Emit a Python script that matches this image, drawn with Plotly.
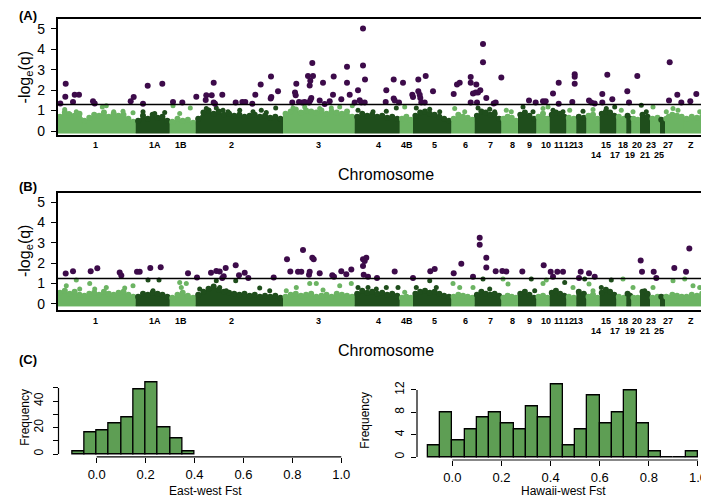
import numpy as np
import plotly.graph_objects as go
from bisect import bisect_right

W, H = 709, 498
FONT = "Liberation Sans, Arial, sans-serif"

# ---------------- chromosome layout (cumulative position units) ----------------
chrom_names = ["1", "1A", "1B", "2", "3", "4", "4B", "5", "6", "7", "8", "9", "10", "11",
               "12", "13", "14", "15", "17", "18", "19", "20", "21", "23", "25", "27", "Z"]
chrom_start = [49.5, 127.7, 161.7, 187.7, 275, 346.7, 391.7, 405, 443.3, 466.7, 493.3, 510,
               528.3, 541.7, 558.3, 568.3, 578.3, 591.7, 608.3, 618.3, 623.3, 632, 642, 652,
               657, 662, 676]
genome_end = 707
chrom_shade = ["L", "D", "L", "D", "L", "D", "L", "D", "L", "D", "L", "D", "L", "D",
               "L", "D", "L", "D", "L", "D", "L", "D", "L", "D", "L", "L", "L"]
chrom_label_pos = [87.7, 146.7, 172.7, 223.3, 310, 370, 399.3, 426, 457.3, 482.3, 504, 521.7,
                   538.3, 551, 560.7, 570, 588.3, 598.3, 606.7, 615, 621.7, 629, 636.7, 643.3,
                   650.7, 660, 683.3]
chrom_label_row = [0, 0, 0, 0, 0, 0, 0, 0, 0, 0, 0, 0, 0, 0, 0, 0, 1, 0, 1, 0, 1, 0, 1, 0, 1, 0, 0]

# ---------------- panel A: dense cloud tops per chromosome ----------------
envA = [
    [0.7, 0.9, 0.8, 0.75, 0.85, 0.5, 0.65, 0.8, 0.75, 0.9, 0.7, 0.85, 0.75, 0.8, 0.6, 0.45],
    [0.5, 0.75, 0.6, 0.8, 0.65, 0.7, 0.5],
    [0.45, 0.6, 0.5, 0.55, 0.4],
    [0.6, 0.9, 1.0, 0.85, 0.95, 0.8, 0.85, 0.75, 0.8, 0.7, 0.75, 0.8, 0.7, 0.75, 0.65, 0.7, 0.6],
    [0.85, 0.95, 1.05, 0.9, 1.0, 0.95, 0.9, 1.0, 0.85, 0.95, 0.9, 0.85, 0.95, 0.7],
    [0.7, 0.85, 0.75, 0.8, 0.7, 0.75, 0.65, 0.7, 0.6],
    [0.6, 0.7, 0.55],
    [0.75, 0.9, 0.95, 0.85, 0.8, 0.7, 0.6, 0.5],
    [0.6, 0.8, 0.7, 0.65, 0.55],
    [0.75, 0.95, 0.9, 0.8, 0.85, 0.6],
    [0.6, 0.7, 0.65, 0.5],
    [0.8, 0.9, 0.75, 0.6],
    [0.7, 0.85, 0.6],
    [0.8, 0.9, 0.85, 0.7],
    [0.65, 0.6],
    [0.7, 0.65],
    [0.75, 0.8, 0.6],
    [0.85, 0.95, 0.9, 0.75],
    [0.7, 0.6],
    [0.75, 0.6],
    [0.6, 0.55],
    [0.8, 0.7],
    [0.6, 0.65],
    [0.55, 0.5],
    [0.6, 0.7],
    [0.8, 0.75, 0.7],
    [0.6, 0.7, 0.65, 0.7, 0.6, 0.7],
]
greenA_x = [56.7, 61, 68.3, 94.3, 98.3, 105.7, 115, 125, 135, 146.7, 156.7, 165, 182.3, 171.7,
            198.3, 208.3, 215, 220, 231.7, 245, 253.3, 258.3, 267.7, 285, 296.7, 311.7, 323.3,
            331.7, 344.3, 350, 365, 378.3, 388.3, 396.7, 408.3, 421.7, 431.7, 446.7, 456.7, 470,
            481.7, 486.7, 498.3, 503.3, 515, 525, 535, 540, 545, 555, 561.7, 575, 585, 598.3,
            606.7, 613.3, 625, 633.3, 638.3, 645, 658.3, 665, 670, 691.7, 705]
greenA_y = [1.05, 0.86, 0.94, 1.18, 1.23, 0.94, 0.97, 0.89, 0.94, 0.86, 0.91, 1.23, 1.13, 0.86,
            1.1, 1.13, 1.02, 0.94, 1.02, 0.94, 1.02, 0.91, 1.13, 1.13, 1.18, 1.1, 1.13,
            1.18, 1.23, 1.02, 0.94, 0.97, 1.13, 1.18, 1.13, 1.07, 0.94, 1.1, 0.94, 1.13,
            1.07, 0.94, 1.02, 0.94, 1.18, 0.94, 1.1, 1.18, 1.02, 0.94, 1.02, 0.97, 1.05, 1.1,
            1.18, 1.02, 0.94, 1.26, 0.94, 1.18, 0.94, 1.1, 1.02, 0.94, 1.02]
sigA_x = [52.3, 57.7, 57.3, 65, 66.7, 71, 85, 86.7, 122.7, 125.7, 135, 139.7, 154.3, 165, 174.3,
          188.3, 197.7, 198.3, 203.7, 205.7, 205.7, 207, 214.3, 227.7, 234.3, 237.3, 244.3, 247.3,
          252.7, 263, 262.7, 263.3, 270,
          284.3, 287.7, 288.3, 287, 291, 294.3, 296.7, 300, 301.7, 302.3, 305, 304.3, 303.3, 302.3,
          301, 311.7, 315, 316.7, 321.7, 325, 325.7, 333.3, 339, 339, 341.7, 346.7, 350, 355, 355,
          357, 351.7, 353.3, 356.7, 378.3, 377.7, 385.7, 385.7, 386.7, 391, 395, 404.3, 405, 410.3,
          410.3, 411.7, 412.3, 413.3, 417.7, 416.7, 425, 445.7, 449, 451.7, 462.7, 462.7, 468.3,
          465, 467.7, 470, 472.3, 462.7, 469, 475, 475, 478.3, 485.7, 487.7,
          493.3, 521, 527.7, 535, 537.7, 545, 550.7, 550.7, 564.3, 566.7, 566.7, 566.7, 581, 583.3,
          586.7, 594.3, 594.3, 599.3, 604.3, 619.3, 621, 629.3, 661.7, 661, 669.3, 673.3, 682.3,
          688.3, 696]
sigA_y = [1.34, 2.31, 1.68, 1.42, 1.78, 1.78, 1.46, 1.34, 1.46, 1.67, 1.33, 2.22, 2.31, 1.42, 1.39,
          1.68, 1.52, 1.75, 1.75, 2.36, 1.39, 1.33, 1.78, 1.39, 1.42, 1.42, 1.33, 1.78,
          2.27, 2.67, 1.59, 1.67, 1.94,
          1.39, 1.75, 2.31, 1.88, 1.42, 1.39, 1.42, 2.69, 2.23, 2.46, 2.69, 3.33, 1.62, 1.50,
          1.39, 1.49, 2.36, 1.32, 1.46, 1.78, 2.67, 1.55, 3.14, 2.36, 1.78, 1.39, 1.99, 5.02, 3.20,
          2.52, 1.50, 1.39, 1.39, 1.99, 1.42, 2.52, 1.59, 1.49, 1.39, 2.36, 1.78, 1.67, 2.52,
          1.94, 1.78, 1.62, 1.39, 2.69, 1.39, 1.94, 1.81, 2.27, 2.36, 2.64, 2.36, 2.27,
          1.83, 1.88, 1.88, 1.99, 1.39, 1.39, 4.26, 3.37, 1.62, 1.34, 1.39,
          2.62, 1.49, 1.39, 1.46, 1.46, 1.84, 2.36, 1.33, 1.42, 2.78, 2.65, 2.31, 1.49, 1.39,
          1.34, 1.81, 1.39, 2.75, 1.55, 1.94, 1.39, 2.69, 3.37, 1.49, 1.78, 1.39, 1.46,
          1.81, 2.43]
thrA = 1.3

# ---------------- panel B ----------------
envB = [
    [0.55, 0.65, 0.5, 0.6, 0.45, 0.4, 0.5, 0.55, 0.45, 0.6, 0.5, 0.45, 0.55, 0.6, 0.45, 0.35],
    [0.35, 0.5, 0.45, 0.55, 0.5, 0.45, 0.35],
    [0.3, 0.45, 0.55, 0.4, 0.3],
    [0.45, 0.6, 0.75, 0.85, 0.7, 0.6, 0.55, 0.5, 0.45, 0.5, 0.4, 0.45, 0.35, 0.4, 0.35, 0.4, 0.3],
    [0.35, 0.45, 0.5, 0.4, 0.45, 0.5, 0.35, 0.4, 0.45, 0.35, 0.5, 0.45, 0.4, 0.35],
    [0.5, 0.65, 0.55, 0.6, 0.5, 0.55, 0.45, 0.5, 0.4],
    [0.3, 0.35, 0.3],
    [0.5, 0.6, 0.65, 0.55, 0.6, 0.5, 0.4, 0.35],
    [0.35, 0.45, 0.4, 0.35, 0.3],
    [0.45, 0.6, 0.5, 0.45, 0.5, 0.4],
    [0.3, 0.4, 0.35, 0.3],
    [0.5, 0.6, 0.45, 0.3],
    [0.35, 0.4, 0.3],
    [0.55, 0.65, 0.5, 0.4],
    [0.35, 0.3],
    [0.6, 0.5],
    [0.35, 0.45, 0.3],
    [0.55, 0.7, 0.6, 0.45],
    [0.35, 0.3],
    [0.5, 0.4],
    [0.3, 0.3],
    [0.6, 0.5],
    [0.3, 0.35],
    [0.35, 0.3],
    [0.35, 0.3],
    [0.45, 0.4, 0.35],
    [0.35, 0.45, 0.4, 0.5, 0.35, 0.45],
]
greenB_x = [58.3, 68.3, 71.7, 81.7, 86.7, 98.3, 116.7, 125, 140, 151, 145, 171.7, 178.3, 173.3,
            191.7, 208.3, 211.7, 227.7, 218.3, 251.7, 261.7, 278.3, 288.3, 301.7, 308.3, 315,
            331.7, 343.3, 350, 360, 368.3, 378.3, 390, 396.7, 408.3, 421.7, 428.3, 445, 451.7,
            465, 475, 481.7, 495, 500, 523.3, 526.7, 535, 538.3, 556.7, 565, 576.7, 581, 585,
            593.3, 603.3, 615, 625, 636.7, 645, 665, 676.7, 685, 691.7, 703.3]
greenB_y = [0.89, 1.17, 0.73, 1.0, 0.73, 0.81, 0.78, 0.89, 1.17, 1.17, 0.65, 1.05, 1.0, 0.81,
            0.73, 1.14, 0.81, 1.14, 0.65, 0.78, 0.65, 0.65, 0.81, 1.0, 1.0, 0.68,
            0.89, 1.0, 0.81, 0.81, 0.73, 0.81, 0.81, 0.57, 0.81, 1.14, 0.81, 1.0, 0.81,
            0.81, 1.22, 0.73, 1.22, 0.98, 1.22, 0.65, 1.0, 1.17, 1.05, 0.81, 1.22, 0.98, 0.65,
            0.81, 1.17, 1.22, 0.81, 0.65, 0.81, 1.14, 1.22, 0.89, 0.81, 0.89]
sigB_x = [57.7, 65, 82.7, 89.3, 111.7, 113.3, 129, 131.7, 142.3, 152.7, 180, 189, 203, 208.3, 211.7,
          217.7, 215.7, 214.3, 227.7, 231, 236.7, 240.3, 265.7,
          279, 282.3, 290, 293.3, 295, 301.7, 301, 304.3, 305.7, 311.7, 324.3, 326, 333.3, 338.3,
          343.3, 355, 355, 355.7, 358.3, 356.7, 360, 369, 386.7, 405, 422.3, 426.7, 445.7, 453.3,
          465, 471.7, 471.7, 478.3, 478.3, 487.7,
          494.3, 498.3, 514.3, 535.7, 542.7, 545, 549.3, 555, 571, 572.7, 581, 586.7, 632.7, 634,
          645.7, 648.3, 666.3, 678, 681.3, 698.3, 702.3]
sigB_y = [1.49, 1.61, 1.61, 1.75, 1.54, 1.40, 1.58, 1.58, 1.77, 1.80, 1.51, 1.30, 1.53, 1.62, 1.59,
          1.77, 1.36, 1.28, 1.90, 1.41, 1.53, 1.28, 1.30,
          2.19, 1.59, 1.58, 1.58, 2.65, 1.58, 1.43, 2.27, 2.19, 1.51, 1.41, 1.33, 1.61, 1.46,
          1.69, 2.19, 1.87, 1.43, 2.27, 2.11, 1.33, 1.28, 1.59, 1.28, 1.61, 1.72, 1.51, 1.97,
          1.33, 3.25, 2.91, 2.27, 1.79, 1.61,
          1.62, 1.59, 1.59, 1.90, 1.58, 1.33, 1.58, 1.58, 1.28, 1.58, 1.51, 1.33, 2.13, 1.58,
          1.58, 1.28, 1.77, 1.58, 2.73, 1.40, 2.01]
thrB = 1.25

# ---------------- panel C: histograms ----------------
bin_start = -0.1
bin_width = 0.05
ew_counts = [2, 16, 18, 23, 28, 49, 54, 20, 12, 2]
hw_counts = [2, 8, 3, 5, 7, 8, 6, 5, 9, 7, 13, 2, 5, 11, 6, 8, 12, 6, 1, 0, 0, 1]
fst_ticks = [0.0, 0.2, 0.4, 0.6, 0.8, 1.0]
ew_yticks_labeled = [0, 20, 40]
ew_yticks_minor = [10, 30, 50]
hw_yticks = [0, 4, 8, 12]

# ---------------- styles ----------------
LIGHT = "#6cb463"
DARK = "#1f4e1c"
PURPLE = "#3d0b4a"
BARC = "#5e9e54"

fig = go.Figure()
chrom_end = chrom_start[1:] + [genome_end]


def shade_of(x):
    i = max(0, bisect_right(chrom_start, x) - 1)
    return LIGHT if chrom_shade[i] == "L" else DARK


def add_manhattan(env, gx, gy, sx, sy, xa, ya):
    for i in range(len(chrom_names)):
        s, e = chrom_start[i], chrom_end[i]
        h = env[i]
        n = len(h)
        xs = list(s + (np.arange(n) + 0.5) * (e - s) / n)
        col = LIGHT if chrom_shade[i] == "L" else DARK
        fig.add_trace(go.Scatter(
            x=[s] + xs + [e, e, s], y=[h[0]] + h + [h[-1], -0.1, -0.1],
            fill="toself", fillcolor=col, mode="lines",
            line=dict(color=col, width=1), xaxis=xa, yaxis=ya, hoverinfo="skip"))
        fig.add_trace(go.Scatter(
            x=xs, y=h, mode="markers", marker=dict(color=col, size=6),
            xaxis=xa, yaxis=ya, hoverinfo="skip"))
    fig.add_trace(go.Scatter(
        x=gx, y=gy, mode="markers",
        marker=dict(color=[shade_of(v) for v in gx], size=5),
        xaxis=xa, yaxis=ya))
    fig.add_trace(go.Scatter(
        x=sx, y=sy, mode="markers", marker=dict(color=PURPLE, size=6),
        xaxis=xa, yaxis=ya))


add_manhattan(envA, greenA_x, greenA_y, sigA_x, sigA_y, "x", "y")
add_manhattan(envB, greenB_x, greenB_y, sigB_x, sigB_y, "x2", "y2")

ew_centers = [bin_start + bin_width * (i + 0.5) for i in range(len(ew_counts))]
hw_centers = [bin_start + bin_width * (i + 0.5) for i in range(len(hw_counts))]
fig.add_trace(go.Bar(x=ew_centers, y=ew_counts, width=bin_width,
                     marker=dict(color=BARC, line=dict(color="black", width=1.3)),
                     xaxis="x3", yaxis="y3"))
fig.add_trace(go.Bar(x=hw_centers, y=hw_counts, width=bin_width,
                     marker=dict(color=BARC, line=dict(color="black", width=1.3)),
                     xaxis="x4", yaxis="y4"))


def dx(a, b):
    return [a / W, b / W]


def dy(top, bottom):
    return [1 - bottom / H, 1 - top / H]


man_x = dict(range=[chrom_start[0], genome_end], showline=True, mirror=True, linecolor="black",
             linewidth=1.5, showticklabels=False, ticks="", showgrid=False, zeroline=False)
man_y = dict(tickvals=[0, 1, 2, 3, 4, 5], ticks="outside", ticklen=5, tickwidth=1.2,
             tickcolor="black", showline=True, mirror=True, linecolor="black", linewidth=1.5,
             showgrid=False, zeroline=False, tickfont=dict(size=14, color="black"),
             ticklabelstandoff=3)
hist_x = dict(tickvals=fst_ticks, ticktext=["%.1f" % t for t in fst_ticks],
              ticks="outside", ticklen=5, tickwidth=1.2, tickcolor="black",
              showline=False, showgrid=False, zeroline=False,
              tickfont=dict(size=13), ticklabelstandoff=0)

fig.update_layout(
    width=W, height=H, margin=dict(l=0, r=0, t=0, b=0),
    paper_bgcolor="white", plot_bgcolor="white", showlegend=False,
    font=dict(family=FONT, color="black"), bargap=0,
    xaxis=dict(domain=dx(49.5, 707), anchor="y", **man_x),
    yaxis=dict(domain=dy(11, 128), range=[-0.194, 5.485], anchor="x", **man_y),
    xaxis2=dict(domain=dx(49.5, 707), anchor="y2", **man_x),
    yaxis2=dict(domain=dy(186.7, 304), range=[-0.278, 5.444], anchor="x2", **man_y),
    xaxis3=dict(domain=dx(50.5, 344), range=[-0.156, 1.044], anchor="y3", **hist_x),
    yaxis3=dict(domain=dy(373.4, 452.6), range=[-2.2, 57.2], anchor="x3",
                tickvals=ew_yticks_labeled, tickangle=-90,
                ticks="outside", ticklen=5, tickwidth=1.2, tickcolor="black",
                minor=dict(tickvals=ew_yticks_minor, ticks="outside", ticklen=5,
                           tickwidth=1.2, tickcolor="black", showgrid=False),
                showline=False, showgrid=False, zeroline=False,
                tickfont=dict(size=12), ticklabelstandoff=5),
    xaxis4=dict(domain=dx(409, 700.8), range=[-0.144, 1.044], anchor="y4", **hist_x),
    yaxis4=dict(domain=dy(376.4, 455.6), range=[-0.52, 13.52], anchor="x4",
                tickvals=hw_yticks, tickangle=-90,
                ticks="outside", ticklen=5, tickwidth=1.2, tickcolor="black",
                showline=False, showgrid=False, zeroline=False,
                tickfont=dict(size=12), ticklabelstandoff=2),
)

shapes = [
    dict(type="line", xref="x domain", yref="y", x0=0, x1=1, y0=thrA, y1=thrA,
         line=dict(color="black", width=1.5)),
    dict(type="line", xref="x2 domain", yref="y2", x0=0, x1=1, y0=thrB, y1=thrB,
         line=dict(color="black", width=1.5)),
    dict(type="line", xref="x3", yref="y3 domain", x0=fst_ticks[0], x1=fst_ticks[-1], y0=0, y1=0,
         line=dict(color="black", width=1.2)),
    dict(type="line", xref="x3 domain", yref="y3", x0=0, x1=0, y0=0, y1=ew_yticks_minor[-1],
         line=dict(color="black", width=1.2)),
    dict(type="line", xref="x4", yref="y4 domain", x0=fst_ticks[0], x1=fst_ticks[-1], y0=0, y1=0,
         line=dict(color="#888888", width=2)),
    dict(type="line", xref="x4 domain", yref="y4", x0=0, x1=0, y0=hw_yticks[0], y1=hw_yticks[-1],
         line=dict(color="black", width=1.2)),
]
fig.update_layout(shapes=shapes)


def ann(text, px, py, size, bold=False, angle=0, xref="paper", xval=None):
    return dict(text=("<b>%s</b>" % text) if bold else text,
                x=(px / W) if xval is None else xval, xref=xref,
                y=1 - py / H, yref="paper", showarrow=False, textangle=angle,
                xanchor="center", yanchor="middle",
                font=dict(size=size, family=FONT, color="black"))


anns = [
    ann("(A)", 20, 8, 13, bold=True),
    ann("(B)", 20, 180, 13, bold=True),
    ann("(C)", 20, 354, 13, bold=True),
    ann("-log<sub>e</sub>(q)", 17, 70, 16, angle=-90),
    ann("-log<sub>e</sub>(q)", 17, 245, 16, angle=-90),
    ann("Chromosome", 378, 168, 16),
    ann("Chromosome", 378, 345, 16),
    ann("Frequency", 17, 413, 12, angle=-90),
    ann("Frequency", 357, 416, 12, angle=-90),
    ann("East-west Fst", 197, 487, 12),
    ann("Hawaii-west Fst", 555, 487, 12),
]
rowsA = [137.7, 148.3]
rowsB = [315.7, 325.7]
for name, pos, row in zip(chrom_names, chrom_label_pos, chrom_label_row):
    anns.append(ann(name, 0, rowsA[row], 9, bold=True, xref="x", xval=pos))
    anns.append(ann(name, 0, rowsB[row], 9, bold=True, xref="x2", xval=pos))
fig.update_layout(annotations=anns)

fig.write_html("out.html")
